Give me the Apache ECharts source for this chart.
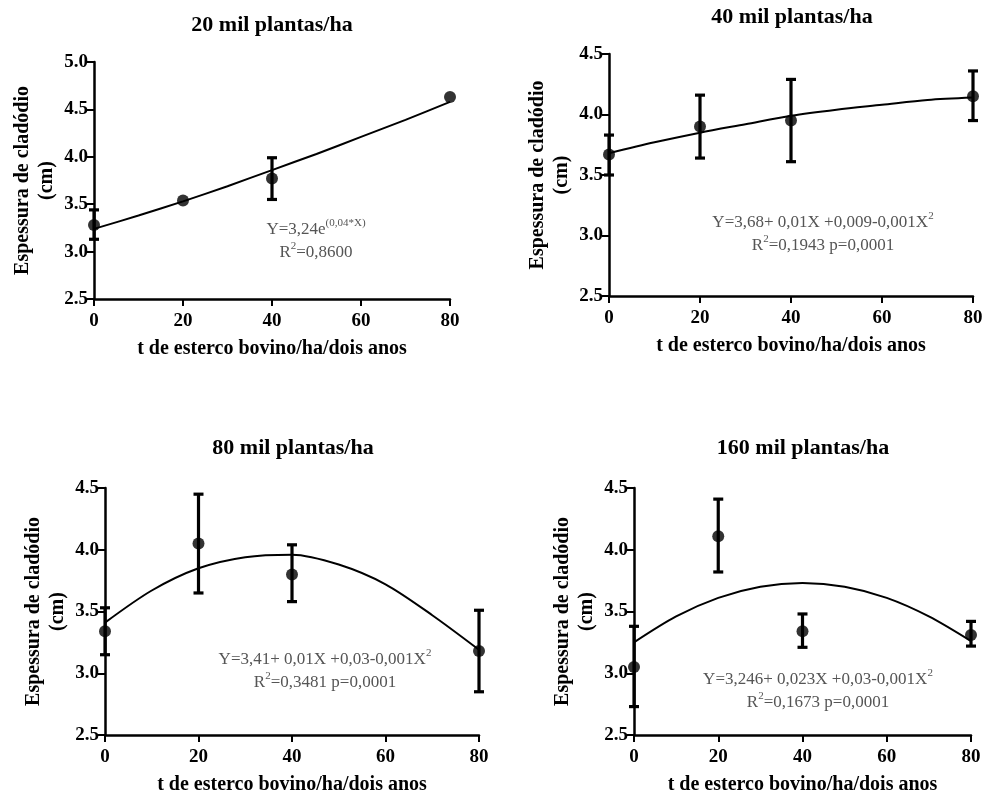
<!DOCTYPE html>
<html>
<head>
<meta charset="utf-8">
<script src="https://cdn.jsdelivr.net/npm/echarts@6/dist/echarts.min.js"></script>
<style>
html, body { margin: 0; background: #fff; }
#grafico { width: 986px; height: 796px; }
</style>
</head>
<body>
<div id="grafico"></div>
<script>
var doses = [0, 20, 40, 80];
var xCurva = [0, 10, 20, 30, 40, 50, 60, 70, 80];

// 20 mil plantas/ha
var media20 = [3.28, 3.54, 3.77, 4.63];
var inf20 = [3.13, null, 3.55, null];
var sup20 = [3.44, null, 3.99, null];
var curva20 = [3.24, 3.38, 3.53, 3.69, 3.86, 4.03, 4.21, 4.39, 4.58];

// 40 mil plantas/ha
var media40 = [3.67, 3.90, 3.95, 4.15];
var inf40 = [3.50, 3.64, 3.61, 3.95];
var sup40 = [3.83, 4.16, 4.29, 4.36];
var curva40 = [3.68, 3.77, 3.85, 3.92, 3.99, 4.04, 4.08, 4.12, 4.14];

// 80 mil plantas/ha
var media80 = [3.34, 4.05, 3.80, 3.18];
var inf80 = [3.15, 3.65, 3.58, 2.85];
var sup80 = [3.53, 4.45, 4.04, 3.51];
var curva80 = [3.41, 3.67, 3.85, 3.94, 3.96, 3.88, 3.72, 3.47, 3.19];

// 160 mil plantas/ha
var media160 = [3.05, 4.11, 3.34, 3.31];
var inf160 = [2.73, 3.82, 3.21, 3.22];
var sup160 = [3.38, 4.41, 3.48, 3.42];
var curva160 = [3.25, 3.46, 3.61, 3.70, 3.73, 3.70, 3.61, 3.46, 3.26];

var titulos = ['20 mil plantas/ha', '40 mil plantas/ha', '80 mil plantas/ha', '160 mil plantas/ha'];
var nomeX = 't de esterco bovino/ha/dois anos';
var nomeY = 'Espessura de cladódio\n(cm)';

var fonte = '"Liberation Serif", "Times New Roman", serif';

var myChart = echarts.init(document.getElementById('grafico'), null, { renderer: 'canvas' });

// posicao de cada painel
var paineis = [
  { left: 94,  top: 62,  width: 356, height: 237, ymax: 5.0, media: media20,  inf: inf20,  sup: sup20,  curva: curva20,  tx: 272, ty: 25 },
  { left: 609, top: 54,  width: 364, height: 242, ymax: 4.5, media: media40,  inf: inf40,  sup: sup40,  curva: curva40,  tx: 792, ty: 17 },
  { left: 105, top: 488, width: 374, height: 249, ymax: 4.5, media: media80,  inf: inf80,  sup: sup80,  curva: curva80,  tx: 293, ty: 448 },
  { left: 634, top: 488, width: 337, height: 249, ymax: 4.5, media: media160, inf: inf160, sup: sup160, curva: curva160, tx: 803, ty: 448 }
];

function barraErro(params, api) {
  var x = api.value(0);
  var p1 = api.coord([x, api.value(1)]);
  var p2 = api.coord([x, api.value(2)]);
  var w = 5;
  var st = { stroke: '#000', lineWidth: 3.2 };
  return {
    type: 'group',
    children: [
      { type: 'line', shape: { x1: p1[0], y1: p1[1], x2: p2[0], y2: p2[1] }, style: st },
      { type: 'line', shape: { x1: p1[0] - w, y1: p1[1], x2: p1[0] + w, y2: p1[1] }, style: st },
      { type: 'line', shape: { x1: p2[0] - w, y1: p2[1], x2: p2[0] + w, y2: p2[1] }, style: st }
    ]
  };
}

var grids = [], xAxes = [], yAxes = [], series = [], graficos = [];

paineis.forEach(function (p, i) {
  grids.push({ left: p.left, top: p.top, width: p.width, height: p.height });
  xAxes.push({
    type: 'value', gridIndex: i, min: 0, max: 80, interval: 20,
    name: nomeX, nameLocation: 'middle', nameGap: 40,
    nameTextStyle: { fontFamily: fonte, fontWeight: 'bold', fontSize: 20, color: '#000' },
    axisLine: { lineStyle: { color: '#000', width: 2.5 } },
    axisTick: { show: true, length: 7, lineStyle: { color: '#000', width: 2 } },
    axisLabel: { margin: 13, fontFamily: fonte, fontWeight: 'bold', fontSize: 19, color: '#000' },
    splitLine: { show: false }
  });
  yAxes.push({
    type: 'value', gridIndex: i, min: 2.5, max: p.ymax, interval: 0.5,
    name: nomeY, nameLocation: 'middle', nameGap: 35, nameRotate: 90,
    nameTextStyle: { fontFamily: fonte, fontWeight: 'bold', fontSize: 20, color: '#000', lineHeight: 24, align: 'center' },
    axisLine: { show: true, lineStyle: { color: '#000', width: 2.5 } },
    axisTick: { show: true, length: 7, lineStyle: { color: '#000', width: 2 } },
    axisLabel: {
      margin: 6, fontFamily: fonte, fontWeight: 'bold', fontSize: 19, color: '#000',
      formatter: function (v) { return v.toFixed(1); }
    },
    splitLine: { show: false }
  });

  var linha = xCurva.map(function (x, k) { return [x, p.curva[k]]; });
  var pontos = doses.map(function (x, k) { return [x, p.media[k]]; });
  var erros = [];
  doses.forEach(function (x, k) {
    if (p.inf[k] != null) erros.push([x, p.inf[k], p.sup[k]]);
  });

  series.push({
    type: 'line', xAxisIndex: i, yAxisIndex: i, data: linha, smooth: 0.3,
    showSymbol: false, lineStyle: { color: '#000', width: 2 }, z: 2
  });
  series.push({
    type: 'custom', xAxisIndex: i, yAxisIndex: i, data: erros,
    renderItem: barraErro, encode: { x: 0, y: [1, 2] }, z: 3
  });
  series.push({
    type: 'scatter', xAxisIndex: i, yAxisIndex: i, data: pontos,
    symbol: 'circle', symbolSize: 12, itemStyle: { color: '#000' }, z: 4
  });

  graficos.push({
    type: 'text', x: p.tx, y: p.ty,
    style: { text: titulos[i], font: 'bold 22px ' + fonte, fill: '#000', textAlign: 'center', textVerticalAlign: 'middle' }
  });
});

// equacoes de regressao
var ricoEq = {
  n: { fontFamily: fonte, fontSize: 17, color: '#555', lineHeight: 23 },
  s: { fontFamily: fonte, fontSize: 11, color: '#555', verticalAlign: 'top', lineHeight: 23 }
};
var equacoes = [
  { x: 316, y: 241, t: '{n|Y=3,24e}{s|(0,04*X)}\n{n|R}{s|2}{n|=0,8600}' },
  { x: 823, y: 234, t: '{n|Y=3,68+ 0,01X +0,009-0,001X}{s|2}\n{n|R}{s|2}{n|=0,1943 p=0,0001}' },
  { x: 325, y: 671, t: '{n|Y=3,41+ 0,01X +0,03-0,001X}{s|2}\n{n|R}{s|2}{n|=0,3481 p=0,0001}' },
  { x: 818, y: 691, t: '{n|Y=3,246+ 0,023X +0,03-0,001X}{s|2}\n{n|R}{s|2}{n|=0,1673 p=0,0001}' }
];
equacoes.forEach(function (e) {
  graficos.push({
    type: 'text', x: e.x, y: e.y,
    style: { text: e.t, rich: ricoEq, textAlign: 'center', textVerticalAlign: 'middle', fill: '#555' }
  });
});

option = {
  backgroundColor: '#fff',
  animation: false,
  grid: grids,
  xAxis: xAxes,
  yAxis: yAxes,
  series: series,
  graphic: graficos
};

myChart.setOption(option);
</script>
</body>
</html>
